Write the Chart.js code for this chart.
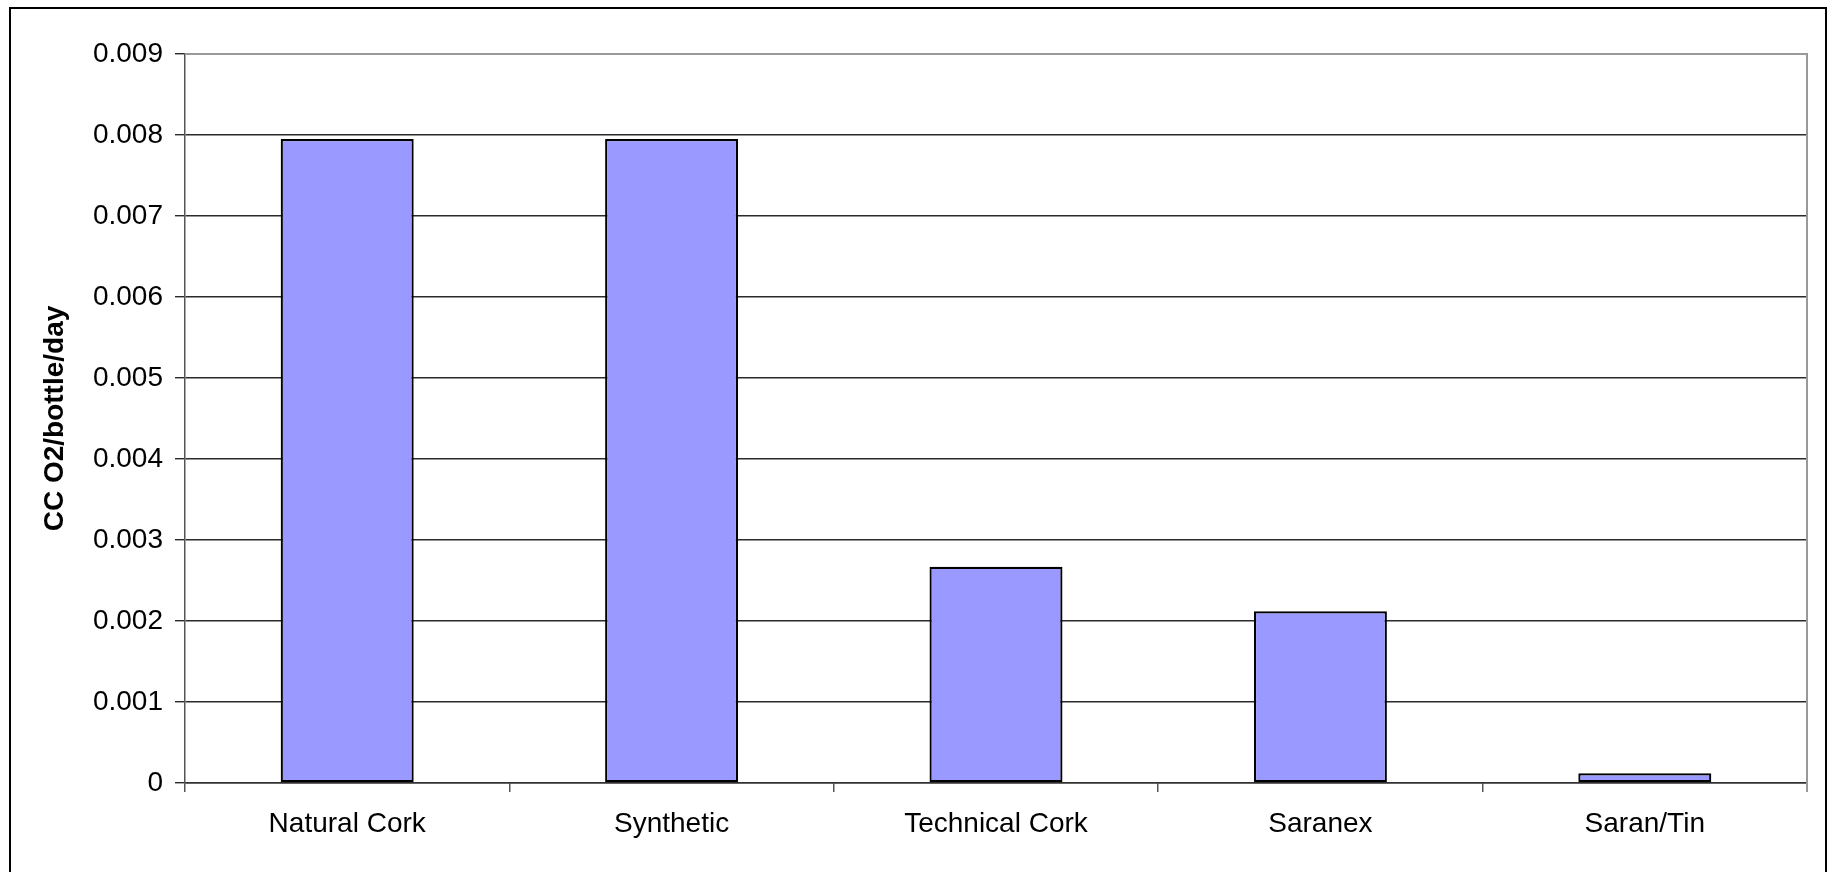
<!DOCTYPE html>
<html>
<head>
<meta charset="utf-8">
<script src="https://cdn.jsdelivr.net/npm/chart.js@4/dist/chart.umd.min.js"></script>
<style>
  html, body { margin: 0; padding: 0; background: #ffffff; }
  #wrap { width: 1832px; height: 872px; position: relative; }
</style>
</head>
<body>
<div id="wrap"><canvas id="chart" width="1832" height="872"></canvas></div>
<script>
// Oxygen transmission per closure type
const closures = ['Natural Cork', 'Synthetic', 'Technical Cork', 'Saranex', 'Saran/Tin'];
const oxygenRate = [0.00795, 0.00795, 0.00267, 0.00212, 0.00012];
const yTickValues = [0, 0.001, 0.002, 0.003, 0.004, 0.005, 0.006, 0.007, 0.008, 0.009];
const yTickLabels = ['0', '0.001', '0.002', '0.003', '0.004', '0.005', '0.006', '0.007', '0.008', '0.009'];
const yAxisTitle = 'CC O2/bottle/day';

const FONT = '"Liberation Sans", Arial, Helvetica, sans-serif';

// Outer frame plus the grey top/right edge of the plot area
const framePlugin = {
  id: 'frame',
  beforeDraw(chart) {
    const c = chart.ctx;
    c.save();
    c.fillStyle = '#ffffff';
    c.fillRect(0, 0, chart.width, chart.height);
    c.restore();
  },
  afterDraw(chart) {
    const c = chart.ctx;
    const a = chart.chartArea;
    c.save();
    c.strokeStyle = '#999999';
    c.lineWidth = 2;
    c.beginPath();
    c.moveTo(a.left, a.top);
    c.lineTo(a.right, a.top);
    c.lineTo(a.right, a.bottom + 9);
    c.stroke();
    c.strokeStyle = '#000000';
    c.lineWidth = 2;
    c.strokeRect(10, 8, 1816, 900);
    c.restore();
  }
};

new Chart(document.getElementById('chart'), {
  type: 'bar',
  data: {
    labels: closures,
    datasets: [{
      data: oxygenRate,
      backgroundColor: '#9999ff',
      borderColor: '#000000',
      borderWidth: 2.2,
      borderSkipped: false,
      barPercentage: 0.41,
      categoryPercentage: 1.0
    }]
  },
  options: {
    responsive: false,
    animation: false,
    devicePixelRatio: 1,
    layout: { padding: { left: 0, top: 54, right: 25, bottom: 0 } },
    plugins: {
      legend: { display: false },
      tooltip: { enabled: false }
    },
    scales: {
      x: {
        offset: true,
        grid: {
          offset: true,
          drawOnChartArea: false,
          drawTicks: true,
          tickLength: 9,
          color: '#555555',
          lineWidth: 1.5
        },
        border: { display: true, color: '#333333', width: 1.5 },
        ticks: {
          padding: 15,
          color: '#000000',
          maxRotation: 0,
          autoSkip: false,
          font: { family: FONT, size: 28 }
        },
        afterFit(scale) { scale.height = 89; }
      },
      y: {
        min: 0,
        max: 0.009,
        afterBuildTicks(scale) {
          scale.ticks = yTickValues.map(v => ({ value: v }));
        },
        grid: {
          color: '#2a2a2a',
          lineWidth: 1.4,
          drawTicks: true,
          tickLength: 10
        },
        border: { display: true, color: '#555555', width: 1.5 },
        ticks: {
          padding: 12,
          color: '#000000',
          font: { family: FONT, size: 28 },
          callback: (v, i) => yTickLabels[i]
        },
        title: {
          display: true,
          text: yAxisTitle,
          color: '#000000',
          font: { family: FONT, size: 28, weight: 'bold' },
          padding: { top: 38, bottom: 0 }
        },
        afterFit(scale) { scale.width = 185; }
      }
    }
  },
  plugins: [framePlugin]
});
</script>
</body>
</html>
